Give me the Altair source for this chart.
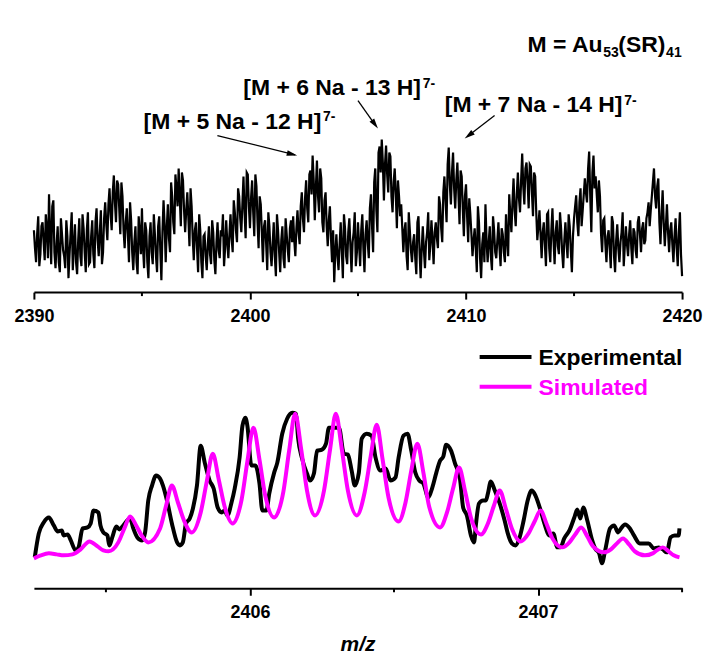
import altair as alt
import pandas as pd

FONT = "Liberation Sans"

# ---------------- top panel: wide-range spectrum ----------------
# readings at 2390.00, 2390.10, ... (step 0.1)
top_mz_start = 2390.0
top_mz_step = 0.1
top_intensity = [
    62, 30, 76, 38, 70, 32, 64, 98, 28, 92,
    24, 66, 20, 58, 36, 72, 14, 60, 22, 68,
    18, 74, 26, 64, 20, 80, 30, 72, 24, 84,
    36, 82, 40, 90, 52, 104, 62, 117, 70, 108,
    58, 96, 44, 84, 30, 72, 22, 66, 18, 60,
    84, 24, 62, 14, 70, 28, 58, 20, 76, 12,
    92, 30, 88, 40, 96, 58, 104, 124, 66, 112,
    60, 100, 46, 86, 32, 70, 20, 62, 14, 58,
    22, 66, 28, 60, 18, 70, 34, 56, 26, 72,
    34, 78, 40, 80, 50, 96, 60, 116, 54, 118,
    64, 112, 56, 106, 44, 88, 30, 72, 22, 66,
    26, 70, 16, 62, 20, 66, 24, 58, 30, 72,
    76, 36, 82, 48, 100, 60, 112, 70, 122, 137,
    72, 132, 80, 114, 60, 100, 46, 86, 30, 10,
    58, 22, 70, 14, 64, 28, 74, 20, 60, 26,
    70, 26, 78, 20, 72, 34, 98, 40, 124, 60,
    146, 153, 92, 147, 100, 136, 80, 124, 64, 96,
    88, 40, 70, 22, 62, 30, 58, 18, 76, 14,
    66, 24, 60, 32, 72, 28, 70, 44, 88, 50,
    116, 70, 145, 88, 140, 84, 130, 68, 116, 56,
    108, 50, 78, 36, 64, 20, 70, 14, 60, 88,
    30, 66, 22, 62, 34, 70, 26, 58, 30, 54,
    98, 60, 114, 66, 120, 80, 139, 88, 130, 84,
    126, 76, 116, 52, 82, 34, 70, 26, 80, 30,
    84, 28, 72, 38, 64, 24, 70, 34, 66, 20,
    74, 97, 56, 104, 82, 114, 90, 141, 60, 137,
    116, 80, 96, 40, 74, 30, 62, 24, 70, 20,
    68, 30, 60, 26, 66, 36, 72, 28, 60, 34,
    76, 40, 70, 52, 80, 66, 96, 124, 84, 114,
    48, 102, 46, 88, 40, 70, 30, 74, 26, 80, 16,
]
# readings at 2390.05, 2390.15, ... (step 0.1)
top_half_mz_start = 2390.05
top_intensity_half = [
    44, 58, 26, 66, 50, 78, 34, 60, 86, 40,
    48, 30, 74, 42, 24, 56, 38, 80, 46, 30,
    52, 36, 78, 40, 62, 28, 56, 38, 70, 52,
    60, 28, 74, 68, 88, 78, 100, 90, 112, 84,
    110, 62, 70, 58, 90, 40, 50, 30, 76, 38,
    44, 70, 30, 56, 40, 78, 36, 66, 42, 60,
    68, 64, 54, 110, 70, 118, 86, 96, 120, 82,
    82, 74, 104, 54, 62, 44, 78, 30, 56, 36,
    48, 38, 72, 32, 50, 42, 62, 78, 44, 50,
    58, 54, 92, 62, 104, 74, 88, 80, 120, 86,
    94, 80, 118, 70, 96, 60, 66, 48, 80, 40,
    48, 36, 78, 40, 52, 34, 74, 42, 64, 50,
    52, 64, 60, 86, 74, 94, 84, 118, 98, 112,
    104, 96, 124, 70, 92, 66, 72, 54, 62, 40,
    36, 48, 42, 78, 36, 60, 46, 50, 80, 40,
    48, 62, 44, 58, 50, 84, 66, 110, 82, 140,
    120, 130, 128, 118, 140, 96, 110, 98, 112, 76,
    64, 62, 36, 80, 42, 50, 34, 70, 40, 44,
    42, 50, 80, 48, 52, 60, 54, 96, 64, 100,
    92, 128, 108, 120, 104, 112, 98, 122, 84, 96,
    76, 94, 58, 52, 44, 86, 34, 48, 30, 52,
    50, 36, 76, 40, 52, 44, 64, 40, 78, 36,
    78, 90, 82, 98, 94, 112, 106, 124, 110, 128,
    100, 120, 80, 66, 58, 60, 48, 78, 44, 62,
    52, 60, 46, 80, 40, 52, 50, 78, 42, 56,
    86, 70, 90, 66, 98, 100, 124, 96, 120, 104,
    98, 112, 58, 72, 48, 56, 44, 76, 36, 52,
    44, 50, 80, 46, 48, 58, 44, 64, 42, 70,
    58, 64, 48, 74, 90, 82, 110, 96, 106, 70,
    78, 70, 66, 60, 62, 48, 56, 44, 60, 38,
]
top_major_ticks = [2390, 2400, 2410, 2420]
top_minor_ticks = [2395, 2405, 2415]

# ---------------- bottom panel: zoom on [M + 6 Na - 13 H]7- ----------------
exp_mz = [
    2405.253, 2405.267, 2405.284, 2405.302, 2405.319, 2405.333, 2405.347, 2405.353, 2405.367, 2405.378,
    2405.395, 2405.405, 2405.419, 2405.436, 2405.447, 2405.457, 2405.474, 2405.481, 2405.491, 2405.505,
    2405.512, 2405.522, 2405.536, 2405.547, 2405.560, 2405.574, 2405.584, 2405.595, 2405.609, 2405.626,
    2405.636, 2405.647, 2405.660, 2405.674, 2405.688, 2405.698, 2405.712, 2405.729, 2405.747, 2405.757,
    2405.767, 2405.778, 2405.791, 2405.802, 2405.816, 2405.829, 2405.843, 2405.860, 2405.874, 2405.888,
    2405.902, 2405.912, 2405.922, 2405.936, 2405.947, 2405.964, 2405.974, 2405.984, 2405.991, 2406.005,
    2406.019, 2406.033, 2406.043, 2406.057, 2406.067, 2406.084, 2406.095, 2406.112, 2406.129, 2406.147,
    2406.160, 2406.167, 2406.181, 2406.198, 2406.209, 2406.222, 2406.233, 2406.250, 2406.264, 2406.274,
    2406.291, 2406.309, 2406.326, 2406.340, 2406.353, 2406.364, 2406.378, 2406.388, 2406.405, 2406.422,
    2406.436, 2406.453, 2406.471, 2406.488, 2406.505, 2406.516, 2406.533, 2406.547, 2406.560, 2406.574,
    2406.588, 2406.602, 2406.619, 2406.633, 2406.647, 2406.660, 2406.671, 2406.681, 2406.698, 2406.712,
    2406.729, 2406.740, 2406.753, 2406.767, 2406.778, 2406.784, 2406.795, 2406.809, 2406.819, 2406.826,
    2406.836, 2406.850, 2406.867, 2406.884, 2406.895, 2406.909, 2406.922, 2406.936, 2406.950, 2406.964,
    2406.978, 2406.991, 2407.009, 2407.022, 2407.040, 2407.053, 2407.067, 2407.078, 2407.091, 2407.109,
    2407.126, 2407.136, 2407.147, 2407.157, 2407.171, 2407.188, 2407.198, 2407.212, 2407.222, 2407.233,
    2407.250, 2407.264, 2407.278, 2407.288, 2407.302, 2407.319, 2407.333, 2407.353, 2407.367, 2407.384,
    2407.402, 2407.419, 2407.433, 2407.447, 2407.460, 2407.474, 2407.488, 2407.491,
]
exp_int = [
    31, 55, 66, 71, 63, 57, 58, 53, 54, 48,
    38, 41, 60, 61, 65, 78, 76, 63, 56, 53,
    43, 51, 62, 59, 63, 68, 70, 60, 51, 48,
    56, 88, 103, 113, 110, 103, 88, 65, 46, 43,
    46, 65, 70, 80, 103, 143, 126, 108, 100, 81,
    76, 78, 73, 86, 100, 131, 163, 171, 163, 123,
    123, 105, 78, 78, 95, 116, 126, 155, 170, 176,
    175, 151, 130, 115, 108, 115, 138, 139, 145, 161,
    161, 161, 135, 134, 118, 103, 116, 150, 155, 153,
    131, 118, 120, 108, 111, 131, 153, 155, 138, 116,
    108, 105, 91, 101, 116, 128, 132, 144, 138, 125,
    110, 81, 73, 53, 46, 63, 85, 88, 88, 95,
    107, 98, 85, 68, 55, 45, 43, 51, 68, 88,
    98, 93, 78, 65, 53, 55, 41, 41, 50, 58,
    71, 79, 70, 81, 68, 48, 40, 35, 25, 38,
    60, 63, 56, 60, 64, 60, 53, 45, 45, 45,
    40, 41, 39, 36, 51, 53, 53, 60,
]

sim_mz = [
    2405.250, 2405.274, 2405.302, 2405.329, 2405.353, 2405.384, 2405.412, 2405.443, 2405.471, 2405.491,
    2405.509, 2405.543, 2405.564, 2405.584, 2405.605, 2405.626, 2405.647, 2405.688, 2405.709, 2405.729,
    2405.750, 2405.771, 2405.798, 2405.829, 2405.850, 2405.871, 2405.891, 2405.912, 2405.940, 2405.971,
    2405.991, 2406.012, 2406.033, 2406.053, 2406.084, 2406.116, 2406.136, 2406.157, 2406.178, 2406.198,
    2406.226, 2406.257, 2406.278, 2406.298, 2406.319, 2406.340, 2406.371, 2406.398, 2406.419, 2406.440,
    2406.460, 2406.481, 2406.516, 2406.540, 2406.560, 2406.581, 2406.602, 2406.622, 2406.660, 2406.684,
    2406.705, 2406.726, 2406.747, 2406.767, 2406.802, 2406.826, 2406.847, 2406.867, 2406.888, 2406.909,
    2406.940, 2406.967, 2406.988, 2407.009, 2407.029, 2407.050, 2407.084, 2407.109, 2407.129, 2407.150,
    2407.171, 2407.191, 2407.229, 2407.253, 2407.274, 2407.295, 2407.316, 2407.336, 2407.371, 2407.398,
    2407.412, 2407.433, 2407.453, 2407.471, 2407.491,
]
sim_int = [
    30, 33, 35, 34, 33, 34, 39, 47, 42, 38,
    37, 46, 60, 72, 63, 52, 46, 60, 83, 103,
    86, 68, 56, 76, 107, 135, 110, 82, 65, 89,
    127, 161, 129, 93, 71, 97, 138, 175, 139, 98,
    73, 98, 139, 175, 139, 98, 73, 96, 132, 164,
    130, 91, 67, 86, 118, 145, 116, 82, 61, 76,
    100, 121, 97, 71, 54, 65, 83, 98, 80, 60,
    47, 55, 67, 78, 65, 50, 41, 46, 54, 61,
    52, 42, 36, 39, 45, 50, 44, 37, 33, 35,
    38, 41, 37, 33, 31,
]
bottom_major_ticks = [2406, 2407]
bottom_minor_ticks = [2405.5, 2406.5, 2407.5]

TOP_H = 292
BOT_H = 249

top_df = pd.concat([
    pd.DataFrame({
        "mz": [round(top_mz_start + top_mz_step * i, 2) for i in range(len(top_intensity))],
        "intensity": top_intensity,
    }),
    pd.DataFrame({
        "mz": [round(top_half_mz_start + top_mz_step * i, 2) for i in range(len(top_intensity_half))],
        "intensity": top_intensity_half,
    }),
]).sort_values("mz").reset_index(drop=True)
exp_df = pd.DataFrame({"mz": exp_mz, "intensity": exp_int})
sim_df = pd.DataFrame({"mz": sim_mz, "intensity": sim_int})
top_minor_df = pd.DataFrame({"mz": top_minor_ticks})
bot_minor_df = pd.DataFrame({"mz": bottom_minor_ticks})
one = pd.DataFrame({"k": [0]})

AX = dict(
    domainColor="black", domainWidth=2, tickColor="black", tickWidth=2, tickSize=7,
    labelFont=FONT, labelFontSize=18, labelFontWeight="bold", labelColor="black",
    labelPadding=8, labelFlush=False, labelOverlap=False, grid=False, format="d",
)


def text(s, x, y, size=23, color="black", style="normal", align="left"):
    return alt.Chart(one).mark_text(
        text=s, align=align, baseline="alphabetic", font=FONT, fontSize=size,
        fontWeight="bold", fontStyle=style, color=color,
    ).encode(x=alt.value(x), y=alt.value(y))


def arrow(x1, y1, xe, ye, xt, yt, ang):
    r = alt.Chart(one).mark_rule(color="black", strokeWidth=1.3).encode(
        x=alt.value(x1), y=alt.value(y1), x2=alt.value(xe), y2=alt.value(ye))
    h = alt.Chart(one).mark_point(
        shape="M0,0L-0.55,2L0.55,2Z", size=110, angle=ang, filled=True,
        color="black", opacity=1, strokeWidth=0,
    ).encode(x=alt.value(xt), y=alt.value(yt))
    return [r, h]


tx = alt.X("mz:Q", title=None,
           scale=alt.Scale(domain=[2390, 2420], nice=False, zero=False),
           axis=alt.Axis(values=top_major_ticks, **AX))

top_line = alt.Chart(top_df).mark_line(color="black", strokeWidth=2.2).encode(
    x=tx,
    y=alt.Y("intensity:Q", scale=alt.Scale(domain=[0, 292]), axis=None),
)
top_minor = alt.Chart(top_minor_df).mark_rule(color="black", strokeWidth=2).encode(
    x=tx, y=alt.value(TOP_H), y2=alt.value(TOP_H + 4))

top_layers = [top_line, top_minor]
top_layers += [
    text("M = Au", 495, 51), text("53", 571, 56, 14), text("(SR)", 586, 51), text("41", 634, 56, 14),
    text("[M + 5 Na - 12 H]", 110, 128), text("7-", 290, 120, 14),
    text("[M + 6 Na - 13 H]", 210, 94), text("7-", 390, 87, 14),
    text("[M + 7 Na - 14 H]", 412, 111), text("7-", 592, 104, 14),
]
top_layers += arrow(184, 135, 262, 154.5, 264, 155, 104)
top_layers += arrow(325, 100, 342, 124, 345, 128, 144.5)
top_layers += arrow(462, 115, 436, 135, 432, 138, 232.5)

top = alt.layer(*top_layers).properties(width=650, height=TOP_H)

bx = alt.X("mz:Q", title=None,
           scale=alt.Scale(domain=[2405.25, 2407.5], nice=False, zero=False),
           axis=alt.Axis(values=bottom_major_ticks, **AX))
by = alt.Y("intensity:Q", scale=alt.Scale(domain=[0, 249]), axis=None)

exp_line = alt.Chart(exp_df).mark_line(color="black", strokeWidth=4, interpolate="monotone").encode(x=bx, y=by)
sim_line = alt.Chart(sim_df).mark_line(color="#FF00FF", strokeWidth=4, interpolate="monotone").encode(x=bx, y=by)
bot_minor = alt.Chart(bot_minor_df).mark_rule(color="black", strokeWidth=2).encode(
    x=bx, y=alt.value(BOT_H), y2=alt.value(BOT_H + 4))

leg = [
    alt.Chart(one).mark_rule(color="black", strokeWidth=4).encode(
        x=alt.value(447), x2=alt.value(499), y=alt.value(17)),
    text("Experimental", 506, 25),
    alt.Chart(one).mark_rule(color="#FF00FF", strokeWidth=4).encode(
        x=alt.value(447), x2=alt.value(499), y=alt.value(47)),
    text("Simulated", 506, 55, color="#FF00FF"),
    text("m/z", 325, 312, size=21, style="italic", align="center"),
]

bottom = alt.layer(exp_line, sim_line, bot_minor, *leg).properties(width=650, height=BOT_H)

chart = alt.vconcat(top, bottom, spacing=48, bounds="flush").properties(
    padding={"left": 13, "top": 0, "right": 5, "bottom": 0},
    background="white",
).configure_view(stroke=None)

chart.save("out.html", embed_options={"renderer": "svg", "actions": False})
